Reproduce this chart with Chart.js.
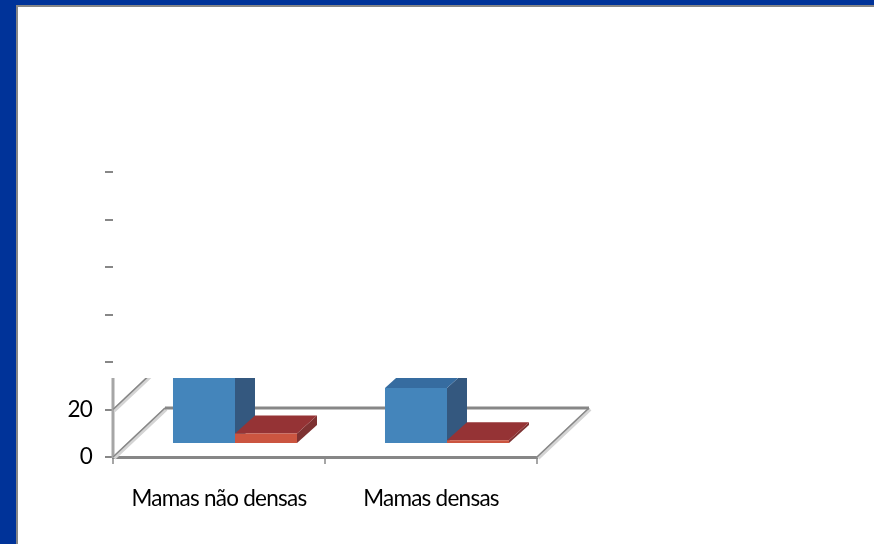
<!DOCTYPE html>
<html lang="pt">
<head>
<meta charset="utf-8">
<title>Mamas</title>
<style>
  html, body { margin: 0; height: 100%; overflow: hidden; background: #003399; }
  #panel { position: absolute; left: 16px; top: 5px; right: -4px; bottom: -4px; background: #fff;
           border-left: 2px solid #868686; border-top: 2px solid #868686; }
  #chart { position: absolute; left: 0; top: 0; }
</style>
<script src="https://cdn.jsdelivr.net/npm/chart.js@4"></script>
</head>
<body>
<div id="panel"></div>
<canvas id="chart" width="874" height="544"></canvas>
<script>
const categories = ["Mamas não densas", "Mamas densas"];
const blueValues = [104, 23.6];
const redValues = [4.4, 1.6];
const yLabels = ["0", "20"];

const blueFaces = { front: "#4485bb", top: "#366ca0", side: "#34587f" };
const redFaces = { front: "#cb5540", top: "#953335", side: "#7e3232" };

const GREY = "#878787";
const FONT = "Lato, sans-serif";

// oblique projection of the floor and the bars
const floorDepth = { x: 52, y: 49 };
const barInset = { x: 16, y: 13 };
const barDepth = { x: 20, y: 18 };
const clipTop = 378;

function poly(ctx, color, pts) {
  ctx.fillStyle = color;
  ctx.beginPath();
  pts.forEach(([x, y], i) => (i ? ctx.lineTo(x, y) : ctx.moveTo(x, y)));
  ctx.closePath();
  ctx.fill();
}

function line(ctx, color, width, x1, y1, x2, y2) {
  ctx.strokeStyle = color;
  ctx.lineWidth = width;
  ctx.beginPath();
  ctx.moveTo(x1, y1);
  ctx.lineTo(x2, y2);
  ctx.stroke();
}

function diagonal(ctx, x, y) {
  line(ctx, "#d4d4d4", 4, x + 1, y + 1, x + floorDepth.x + 1, y - floorDepth.y + 1);
  line(ctx, GREY, 1.6, x, y, x + floorDepth.x, y - floorDepth.y);
}

function drawBox(ctx, bar, faces) {
  const left = bar.x - bar.width / 2 + barInset.x;
  const right = bar.x + bar.width / 2 + barInset.x;
  const top = bar.y - barInset.y;
  const bottom = bar.base - barInset.y;
  const dx = barDepth.x;
  const dy = barDepth.y;
  poly(ctx, faces.side, [[right, top], [right + dx, top - dy], [right + dx, bottom - dy], [right, bottom]]);
  poly(ctx, faces.top, [[left, top], [left + dx, top - dy], [right + dx, top - dy], [right, top]]);
  poly(ctx, faces.front, [[left, top], [right, top], [right, bottom], [left, bottom]]);
}

// Draws the floor, the side wall and the boxes instead of flat bars.
const box3d = {
  id: "box3d",
  beforeDraw(chart) {
    // tightens the tick labels
    chart.ctx.letterSpacing = "-0.75px";
  },
  beforeDatasetsDraw(chart) {
    const { ctx, scales: { x, y } } = chart;
    const zero = y.getPixelForValue(0);
    ctx.save();
    ctx.beginPath();
    ctx.rect(0, clipTop, chart.width, chart.height - clipTop);
    ctx.clip();

    line(ctx, "#a6a6a6", 3, x.left, zero + 1, x.left, y.top);
    y.ticks.forEach((t) => diagonal(ctx, x.left, y.getPixelForValue(t.value)));
    diagonal(ctx, x.right, zero);
    line(ctx, GREY, 3, x.left + floorDepth.x, zero - floorDepth.y, x.right + floorDepth.x, zero - floorDepth.y);

    const sets = [chart.getDatasetMeta(0).data, chart.getDatasetMeta(1).data];
    categories.forEach((_, i) => {
      drawBox(ctx, sets[0][i], blueFaces);
      drawBox(ctx, sets[1][i], redFaces);
    });
    ctx.restore();
    return false;
  },
};

new Chart(document.getElementById("chart"), {
  type: "bar",
  data: {
    labels: categories,
    datasets: [
      { label: "Azul", data: blueValues, backgroundColor: blueFaces.front },
      { label: "Vermelho", data: redValues, backgroundColor: redFaces.front },
    ],
  },
  options: {
    responsive: false,
    animation: false,
    categoryPercentage: 0.585,
    barPercentage: 1,
    layout: { padding: { top: 172, right: 337 } },
    plugins: {
      legend: { display: false },
      tooltip: { enabled: false },
    },
    scales: {
      x: {
        afterFit: (s) => { s.height = 87; },
        border: { color: GREY, width: 3 },
        grid: { offset: true, drawOnChartArea: false, color: "#a6a6a6", lineWidth: 2, tickLength: 7 },
        ticks: { color: "#000", padding: 21, maxRotation: 0, font: { family: FONT, size: 22.5 } },
      },
      y: {
        min: 0,
        max: 120,
        afterFit: (s) => { s.width = 113; },
        border: { display: false },
        grid: { drawOnChartArea: false, color: GREY, lineWidth: 2, tickLength: 8 },
        ticks: {
          stepSize: 20,
          color: "#000",
          padding: 13,
          font: { family: FONT, size: 22.5 },
          callback: (v, i) => yLabels[i] || "",
        },
      },
    },
  },
  plugins: [box3d],
});
</script>
</body>
</html>
